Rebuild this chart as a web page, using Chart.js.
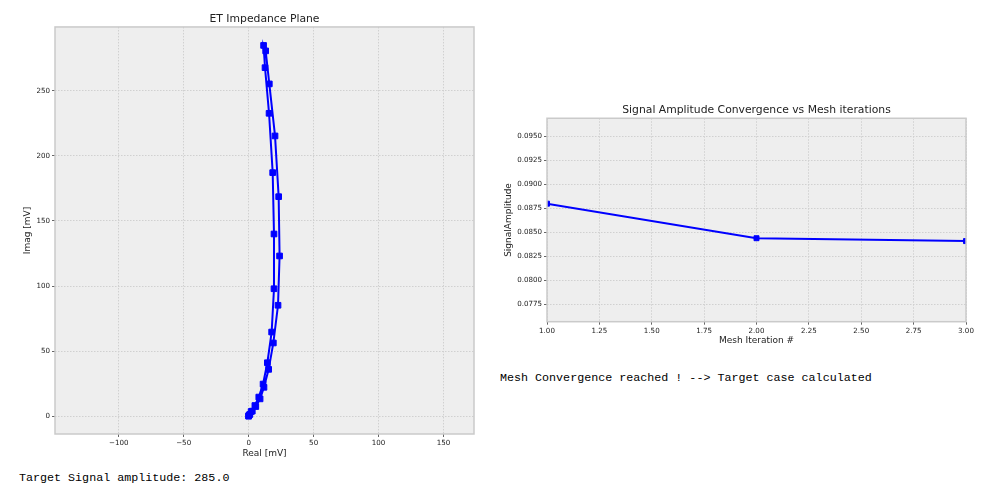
<!DOCTYPE html>
<html>
<head>
<meta charset="utf-8">
<title>ET Impedance Plane</title>
<script src="https://cdn.jsdelivr.net/npm/chart.js@4.4.1/dist/chart.umd.min.js"></script>
<style>
  body { margin: 0; background: #fff; width: 1000px; height: 495px; position: relative; overflow: hidden; }
  .box { position: absolute; }
  .mono { position: absolute; font-family: "Liberation Mono", monospace; font-size: 11.7px; color: #000; white-space: pre; line-height: 14px; }
</style>
</head>
<body>
<div class="box" style="left:0;top:0;width:490px;height:459px"><canvas id="impedanceChart"></canvas></div>
<div class="box" style="left:490px;top:95px;width:490px;height:251px"><canvas id="convChart"></canvas></div>
<div class="mono" style="left:19px;top:471px">Target Signal amplitude: 285.0</div>
<div class="mono" style="left:500px;top:371px">Mesh Convergence reached ! --&gt; Target case calculated</div>

<script>
// impedance plane trace (origin -> outer branch -> peak -> inner branch -> origin)
const realMv = [0, 0.9, 2.8, 5.5, 8.8, 11.8, 15.4, 19.0, 22.6, 23.8, 23.1, 20.3, 15.9, 13.1, 11.5,
                12.6, 15.7, 18.5, 19.5, 19.5, 17.7, 14.4, 11.1, 7.8, 4.8, 1.9, 0.4, 0];
const imagMv = [0, 1.2, 3.8, 7.3, 13.2, 22.1, 35.9, 56.2, 85.2, 123.1, 168.7, 215.4, 255.4, 280.8, 285.0,
                267.9, 232.8, 187.2, 140.0, 97.9, 64.6, 41.0, 24.6, 14.6, 8.1, 3.5, 0.8, 0];
const realTicks = [-100, -50, 0, 50, 100, 150];
const imagTicks = [0, 50, 100, 150, 200, 250];

// mesh convergence
const meshIter = [1, 2, 3];
const signalAmp = [0.0880, 0.0844, 0.0841];
const iterTicks = [1.00, 1.25, 1.50, 1.75, 2.00, 2.25, 2.50, 2.75, 3.00];
const ampTicks = [0.0775, 0.0800, 0.0825, 0.0850, 0.0875, 0.0900, 0.0925, 0.0950];

const FONT = "DejaVu Sans";
const BLUE = "#0000ff";

const plotFrame = {
  id: "plotFrame",
  beforeDraw(chart) {
    const a = chart.chartArea, ctx = chart.ctx;
    ctx.save();
    ctx.fillStyle = "#eeeeee";
    ctx.fillRect(a.left, a.top, a.right - a.left, a.bottom - a.top);
    ctx.restore();
  },
  afterDraw(chart) {
    const a = chart.chartArea, ctx = chart.ctx;
    ctx.save();
    ctx.strokeStyle = "#cacaca";
    ctx.lineWidth = 1.5;
    ctx.strokeRect(a.left, a.top, a.right - a.left, a.bottom - a.top);
    ctx.restore();
  }
};

function axis(opts) {
  return {
    type: "linear",
    min: opts.min,
    max: opts.max,
    afterBuildTicks: s => { s.ticks = opts.ticks.map(v => ({ value: v })); },
    afterFit: s => {
      if (opts.width) s.width = opts.width;
      if (opts.height) s.height = opts.height;
    },
    grid: { color: "#d0d0d0", tickLength: 3, tickColor: "#666", tickBorderDash: [] },
    border: { display: false, dash: [1.5, 1.5] },
    ticks: {
      autoSkip: false, maxRotation: 0, padding: 2, color: "#222",
      font: { family: FONT, size: 7.1 },
      callback: v => opts.fmt(v)
    },
    title: {
      display: true, text: opts.title, color: "#222",
      font: { family: FONT, size: 9 },
      padding: opts.titlePad
    }
  };
}

const minusFmt = v => String(v).replace("-", "\u2212");

new Chart(document.getElementById("impedanceChart"), {
  type: "line",
  data: {
    datasets: [{
      data: realMv.map((x, i) => ({ x: x, y: imagMv[i] })),
      borderColor: BLUE, backgroundColor: BLUE, borderWidth: 2,
      pointStyle: "rect", pointRadius: 4, pointBorderWidth: 1,
      pointBackgroundColor: BLUE, pointBorderColor: BLUE,
      tension: 0, clip: 0
    }]
  },
  options: {
    responsive: true, maintainAspectRatio: false, animation: false,
    layout: { padding: { left: 18, right: 16, top: 0, bottom: 0 } },
    plugins: {
      legend: { display: false }, tooltip: { enabled: false },
      title: { display: true, text: "ET Impedance Plane", fullSize: false, color: "#222",
               font: { family: FONT, size: 10.8, weight: "normal" }, padding: { top: 12.5, bottom: 1.5 } }
    },
    scales: {
      x: axis({ min: -149, max: 173.4, ticks: realTicks, fmt: minusFmt, height: 25,
                title: "Real [mV]", titlePad: { top: 0, bottom: 0 } }),
      y: axis({ min: -13.8, max: 299.2, ticks: imagTicks, fmt: minusFmt, width: 37,
                title: "Imag [mV]", titlePad: { top: 4.6, bottom: 0 } })
    }
  },
  plugins: [plotFrame]
});

new Chart(document.getElementById("convChart"), {
  type: "line",
  data: {
    datasets: [{
      data: meshIter.map((x, i) => ({ x: x, y: signalAmp[i] })),
      borderColor: BLUE, backgroundColor: BLUE, borderWidth: 2,
      pointStyle: "rect", pointRadius: 3.5, pointBorderWidth: 1,
      pointBackgroundColor: BLUE, pointBorderColor: BLUE,
      tension: 0, clip: 0
    }]
  },
  options: {
    responsive: true, maintainAspectRatio: false, animation: false,
    layout: { padding: { left: 10, right: 14, top: 0, bottom: 0 } },
    plugins: {
      legend: { display: false }, tooltip: { enabled: false },
      title: { display: true, text: "Signal Amplitude Convergence vs Mesh iterations", fullSize: false, color: "#222",
               font: { family: FONT, size: 10.8, weight: "normal" }, padding: { top: 8.5, bottom: 1.8 } }
    },
    scales: {
      x: axis({ min: 1, max: 3, ticks: iterTicks, fmt: v => v.toFixed(2), height: 24.3,
                title: "Mesh Iteration #", titlePad: { top: 0, bottom: 0 } }),
      y: axis({ min: 0.0757, max: 0.0969, ticks: ampTicks, fmt: v => v.toFixed(4), width: 47,
                title: "SignalAmplitude", titlePad: { top: 3.6, bottom: 0 } })
    }
  },
  plugins: [plotFrame]
});
</script>
</body>
</html>
